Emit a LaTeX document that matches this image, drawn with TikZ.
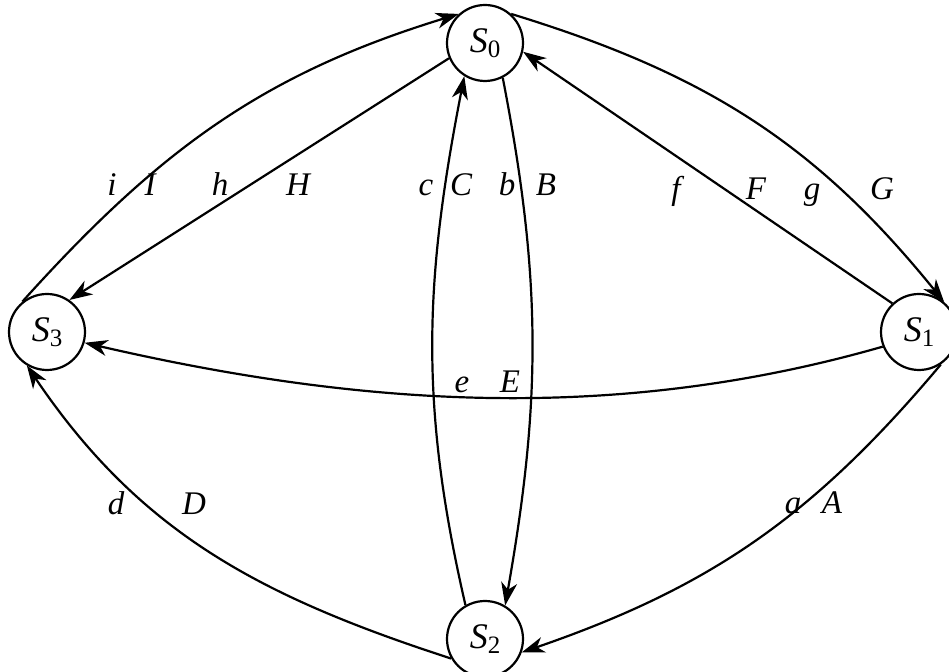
\documentclass[tikz,border=0pt]{standalone}
\usepackage{fontspec}
\setmainfont{Liberation Serif}
\usetikzlibrary{arrows.meta}
\newcommand\stname[1]{\fontsize{36}{40}\selectfont\textit{S}\raisebox{-5pt}{\fontsize{25}{28}\selectfont #1}}
\begin{document}
\begin{tikzpicture}[x=1pt,y=1pt,
  state/.style={draw,circle,line width=2.2pt,minimum size=76pt,inner sep=0pt,fill=white},
  lbl/.style={anchor=base,inner sep=0pt,font=\fontsize{33}{36}\selectfont\itshape},
  edge/.style={line width=2.2pt,-{Stealth[length=23pt,width=16pt,inset=7pt]}}]
\useasboundingbox (0,0) rectangle (949,671);
\node[state] (S0) at (485,628) {\stname{0}};
\node[state] (S3) at (47,339) {\stname{3}};
\node[state] (S1) at (919,339) {\stname{1}};
\node[state] (S2) at (485,32) {\stname{2}};
% edges
\draw[edge] (S3.129) to[out=48,in=197] (S0.132);
\draw[edge] (S0.203) -- (S3.55);
\draw[edge] (S2.120) to[out=103,in=259] (S0.238);
\draw[edge] (S0.297) to[out=281,in=80] (S2.59);
\draw[edge] (S1.133) -- (S0.347);
\draw[edge] (S0.48) to[out=-17,in=129] (S1.50);
\draw[edge] (S1.202) to[out=196,in=347,looseness=0.9] (S3.344);
\draw[edge] (S2.210) to[out=162,in=304] (S3.239);
\draw[edge] (S1.304) to[out=230,in=19] (S2.340);
% labels
\node[lbl] (li) at (112,475) {i};
\node[lbl] (lI) at (150,475) {I};
\node[lbl] (lh) at (220,475) {h};
\node[lbl] (lH) at (298,475) {H};
\node[lbl] (lc) at (426,475) {c};
\node[lbl] (lC) at (461,475) {C};
\node[lbl] (lb) at (507,475) {b};
\node[lbl] (lB) at (546,475) {B};
\node[lbl] (lf) at (676,471) {f};
\node[lbl] (lF) at (756,471) {F};
\node[lbl] (lg) at (812,471) {g};
\node[lbl] (lG) at (882,471) {G};
\node[lbl] (le) at (462,278) {e};
\node[lbl] (lE) at (510,278) {E};
\node[lbl] (ld) at (116,156) {d};
\node[lbl] (lD) at (194,156) {D};
\node[lbl] (la) at (793,157) {a};
\node[lbl] (lA) at (832,157) {A};
\end{tikzpicture}
\end{document}
